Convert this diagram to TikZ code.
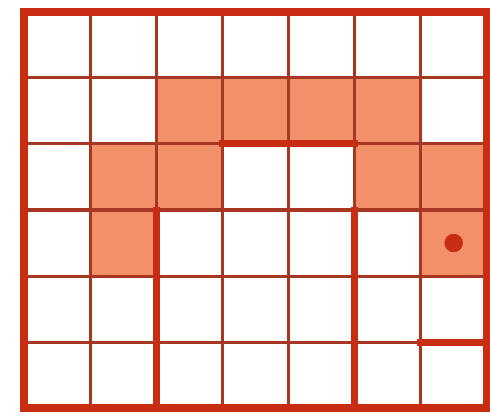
\documentclass[tikz,border=0pt]{standalone}
\usepackage{tikz}
\usetikzlibrary{calc}
\usepackage{xcolor}
\definecolor{gridred}{RGB}{200,45,20}
\definecolor{gridbrown}{RGB}{165,55,35}
\definecolor{cellfill}{RGB}{242,145,105}

\begin{document}
\begin{tikzpicture}[
    gridline/.style={draw=gridbrown,line width=1.3pt},
    wall/.style={draw=gridred,line width=3pt,line cap=rect},
    frame/.style={draw=gridred,line width=3.4pt}]
\useasboundingbox (-0.37,-0.12) rectangle (7.05,6.18);
% shaded cells (column, row from bottom)
\foreach \c/\r in {2/4,3/4,4/4,5/4, 1/3,2/3,5/3,6/3, 1/2,6/2}
    \fill[cellfill] (\c,\r) rectangle ++(1,1);
% grid
\draw[gridline] (0,0) grid (7,6);
% walls
\draw[wall] (3,4) -- (5,4);
\draw[wall] (2,3) -- (2,0);
\draw[wall] (5,3) -- (5,0);
\draw[wall] (6,1) -- (7,1);
\draw[frame] (0,0) rectangle (7,6);
% marker
\fill[gridred] (6.5,2.5) circle (0.14);
\end{tikzpicture}
\end{document}
